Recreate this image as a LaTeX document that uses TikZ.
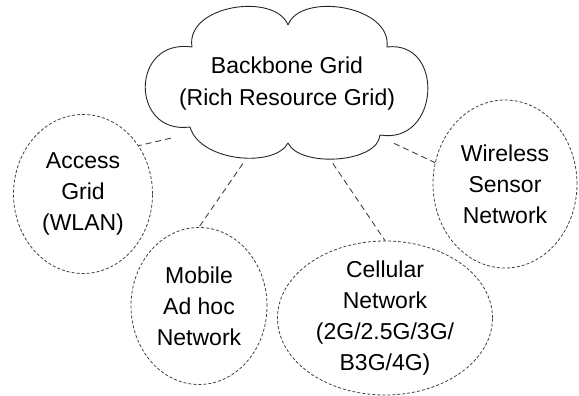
\documentclass[tikz,border=0pt]{standalone}
\usepackage{fontspec}
\setmainfont{Liberation Sans}
\usetikzlibrary{shapes.geometric}

\begin{document}
\begin{tikzpicture}[x=1pt, y=1pt,
	net/.style={shape=ellipse, draw=black!75, line width=0.8pt, dash pattern=on 3pt off 2pt, inner sep=0pt, align=center, font=\fontsize{23}{31}\selectfont},
	link/.style={-, draw=black!75, line width=0.9pt, dash pattern=on 6pt off 4pt},
	puff/.style={draw=black!85, line width=0.9pt, line join=round}]
	
	\useasboundingbox (0, 0) rectangle (579, -396);
	
	% backbone cloud
	\draw[puff] (192, -47) .. controls (185, -5) and (275, 8) .. (288, -25)
		.. controls (300, 8) and (392, -5) .. (387, -47)
		.. controls (445, -40) and (440, -145) .. (380, -135)
		.. controls (378, -163) and (300, -168) .. (288, -143)
		.. controls (275, -168) and (200, -162) .. (190, -127)
		.. controls (130, -135) and (130, -38) .. (192, -47) -- cycle;
	\node[shape=ellipse, inner sep=0pt, minimum width=226pt, minimum height=166pt, align=center, font=\fontsize{23}{32}\selectfont] (backbone) at (287, -84) {Backbone Grid\\(Rich Resource Grid)};
	
	\node[net, minimum width=139pt, minimum height=159pt] (access) at (83, -194)     {Access\\Grid\\(WLAN)};
	\node[net, minimum width=136pt, minimum height=157pt] (mobile) at (199, -306)    {Mobile\\Ad hoc\\Network};
	\node[net, minimum width=215pt, minimum height=154pt, inner sep=-4pt] (cellular) at (385, -318) {Cellular\\Network\\(2G/2.5G/3G/\\B3G/4G)};
	\node[net, minimum width=144pt, minimum height=168pt] (wireless) at (505, -184)  {Wireless\\Sensor\\Network};
	
	\path[link] (backbone.205) edge (access.41);
	\path[link] (backbone.241) edge (mobile.north);
	\path[link] (backbone.300) edge (cellular.north);
	\path[link] (backbone.331) edge (wireless.163);
	
\end{tikzpicture}
\end{document}
